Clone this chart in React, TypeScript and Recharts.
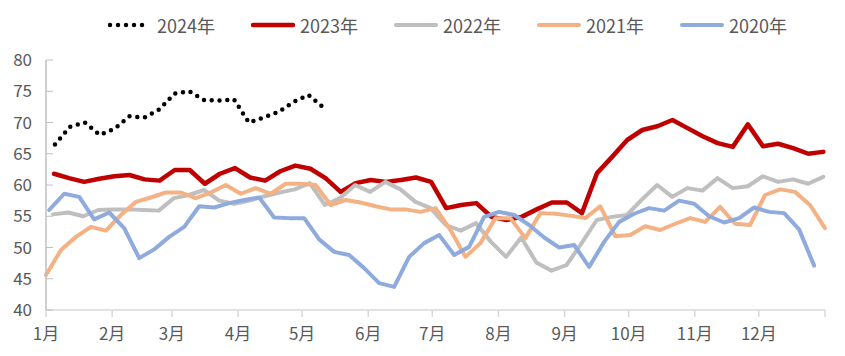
import React from "react";
import { LineChart, Line, XAxis, YAxis } from "recharts";

// weekly values (one point per week)
const values2024 = [
  66.5, 69.3, 70.0, 68.0, 69.0, 71.0, 70.8, 72.1, 74.6, 75.0, 73.6, 73.5, 73.7,
  70.0, 70.8, 71.7, 73.3, 74.4, 72.4,
];
const values2023 = [
  61.8, 61.1, 60.5, 61.0, 61.4, 61.6, 60.9, 60.7, 62.4, 62.4, 60.2, 61.8, 62.7,
  61.2, 60.7, 62.2, 63.1, 62.6, 61.1, 58.9, 60.3, 60.8, 60.5, 60.8, 61.2, 60.5,
  56.3, 56.8, 57.1, 54.9, 54.4, 54.9, 56.1, 57.2, 57.2, 55.5, 61.9, 64.5, 67.2,
  68.8, 69.4, 70.4, 69.1, 67.8, 66.7, 66.1, 69.7, 66.2, 66.6, 65.9, 65.0, 65.3,
];
const values2022 = [
  55.3, 55.6, 55.0, 56.0, 56.1, 56.1, 56.0, 55.9, 57.9, 58.4, 59.2, 57.5, 57.0,
  57.5, 58.2, 58.8, 59.3, 60.3, 56.8, 57.9, 60.0, 58.9, 60.5, 59.3, 57.3, 56.3,
  53.6, 52.7, 53.9, 50.9, 48.5, 51.6, 47.6, 46.3, 47.2, 50.7, 54.4, 54.9, 55.2,
  57.7, 60.0, 58.1, 59.5, 59.1, 61.1, 59.5, 59.8, 61.4, 60.5, 60.9, 60.2, 61.3,
];
const values2021 = [
  45.6, 49.6, 51.7, 53.3, 52.7, 55.2, 57.3, 58.0, 58.8, 58.8, 57.9, 58.8, 60.0,
  58.6, 59.5, 58.6, 60.2, 60.2, 60.0, 56.8, 57.6, 57.2, 56.6, 56.1, 56.1, 55.7,
  56.3, 52.8, 48.5, 50.7, 54.7, 54.7, 51.5, 55.5, 55.4, 55.1, 54.7, 56.6, 51.8,
  52.0, 53.4, 52.8, 53.8, 54.7, 54.1, 56.5, 53.8, 53.6, 58.4, 59.3, 58.9, 56.8,
  53.1,
];
const values2020 = [
  56.0, 58.6, 58.1, 54.5, 55.6, 53.1, 48.3, 49.7, 51.7, 53.3, 56.6, 56.4, 57.1,
  57.6, 58.0, 54.8, 54.7, 54.7, 51.3, 49.3, 48.8, 46.7, 44.3, 43.7, 48.5, 50.7,
  52.0, 48.8, 50.1, 54.9, 55.7, 55.2, 53.6, 51.6, 50.0, 50.4, 46.9, 50.9, 54.1,
  55.4, 56.3, 55.9, 57.5, 57.0, 55.0, 54.0, 54.7, 56.4, 55.7, 55.5, 52.9, 47.1,
];

// first / last week of each series, as day of year
const span2024 = [4.2, 130];
const span2023 = [3.75, 364.2];
const span2022 = [3.3, 364.2];
const span2021 = [0, 365];
const span2020 = [1.5, 359.9];

const monthStarts = [0, 31, 59, 90, 120, 151, 181, 212, 243, 273, 304, 334, 365];
const monthLabels = ["1月", "2月", "3月", "4月", "5月", "6月", "7月", "8月", "9月", "10月", "11月", "12月", ""];
const yTicks = [40, 45, 50, 55, 60, 65, 70, 75, 80];

const toPoints = (values: number[], span: number[]) =>
  values.map((v, i) => ({
    day: span[0] + (i * (span[1] - span[0])) / (values.length - 1),
    v,
  }));

const series = [
  { name: "2024年", data: toPoints(values2024, span2024), color: "#000000", width: 4.5, dash: "0 7.8" },
  { name: "2023年", data: toPoints(values2023, span2023), color: "#C00000", width: 4.5 },
  { name: "2022年", data: toPoints(values2022, span2022), color: "#BFBFBF", width: 4 },
  { name: "2021年", data: toPoints(values2021, span2021), color: "#F4B183", width: 4 },
  { name: "2020年", data: toPoints(values2020, span2020), color: "#8FAADC", width: 4 },
];

const FONT = "'Noto Sans CJK SC', 'Liberation Sans', sans-serif";

const YTick = (props: any) => {
  const { x, y, payload } = props;
  return (
    <g>
      <line x1={x + 14} x2={x + 21} y1={y} y2={y} stroke="#BFBFBF" strokeWidth={1} />
      <text x={x} y={y} dy={6} textAnchor="end" fill="#595959" fontSize={17} fontFamily={FONT}>
        {payload.value}
      </text>
    </g>
  );
};

function LegendRow() {
  return (
    <div
      style={{
        position: "absolute",
        top: 12,
        left: 108,
        display: "flex",
        fontFamily: FONT,
        fontSize: 18,
        color: "#595959",
      }}
    >
      {series.map((s) => (
        <div key={s.name} style={{ width: 143, display: "flex", alignItems: "center" }}>
          <svg width={44} height={10} style={{ marginRight: 5 }}>
            <line
              x1={2}
              x2={42}
              y1={5}
              y2={5}
              stroke={s.color}
              strokeWidth={s.width}
              strokeLinecap="round"
              strokeDasharray={s.dash ? "0 8" : undefined}
            />
          </svg>
          <span>{s.name}</span>
        </div>
      ))}
    </div>
  );
}

export default function App() {
  return (
    <div style={{ position: "relative", width: 845, height: 356, background: "#fff" }}>
      <style>{"body{margin:0}"}</style>
      <LineChart width={845} height={356} margin={{ top: 60, right: 20, bottom: 16, left: 0 }}>
        <XAxis
          dataKey="day"
          type="number"
          domain={[0, 365]}
          ticks={monthStarts}
          interval={0}
          tickFormatter={(d: number) => monthLabels[monthStarts.indexOf(d)]}
          axisLine={{ stroke: "#D9D9D9", strokeWidth: 1.5 }}
          tickLine={{ stroke: "#D9D9D9", strokeWidth: 1.5 }}
          tickSize={7}
          tickMargin={11}
          height={30}
          tick={{ fill: "#595959", fontSize: 17, fontFamily: FONT }}
        />
        <YAxis
          type="number"
          domain={[40, 80]}
          ticks={yTicks}
          interval={0}
          width={46}
          axisLine={{ stroke: "#BFBFBF", strokeWidth: 1.5 }}
          tickLine={false}
          tickSize={0}
          tickMargin={14}
          tick={<YTick />}
        />
        {series.map((s) => (
          <Line
            key={s.name}
            data={s.data}
            dataKey="v"
            name={s.name}
            type="linear"
            stroke={s.color}
            strokeWidth={s.width}
            strokeDasharray={s.dash}
            strokeLinecap="round"
            strokeLinejoin="round"
            dot={false}
            activeDot={false}
            isAnimationActive={false}
          />
        ))}
      </LineChart>
      <LegendRow />
    </div>
  );
}
